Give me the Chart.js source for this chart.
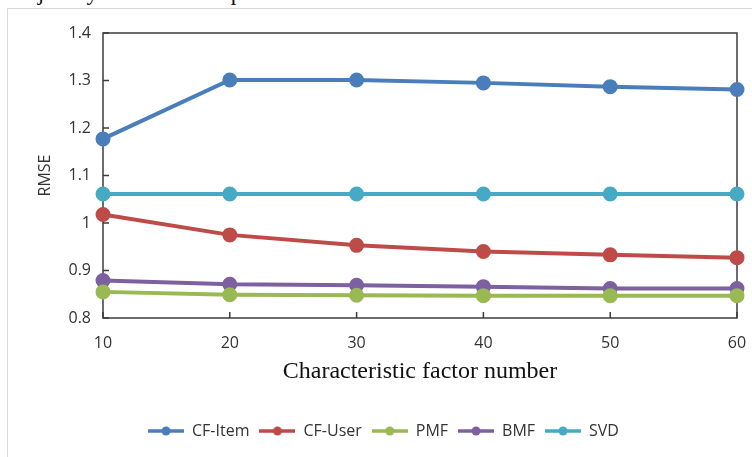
<!DOCTYPE html>
<html>
<head>
<meta charset="utf-8">
<script src="https://cdn.jsdelivr.net/npm/chart.js@4.4.1/dist/chart.umd.min.js"></script>
<style>
  html, body { margin: 0; padding: 0; background: #fff; }
  body { width: 752px; height: 457px; position: relative; overflow: hidden; }
  #cut {
    position: absolute; right: 389px; top: -20px;
    font-family: "Liberation Serif", "Times New Roman", serif;
    font-size: 23px; color: #111; white-space: nowrap;
  }
  #frame {
    position: absolute; left: 7px; top: 8px; width: 780px; height: 480px;
    border: 1px solid #d9d9d9;
  }
  #wrap { position: absolute; left: 0; top: 0; width: 752px; height: 457px; }
</style>
</head>
<body>
<div id="cut">jointly matrix decomposition based</div>
<div id="frame"></div>
<div id="wrap"><canvas id="chart-1"></canvas></div>
<script>
let factors = [10, 20, 30, 40, 50, 60];

let cfItem = [1.177, 1.301, 1.301, 1.295, 1.287, 1.281];
let cfUser = [1.018, 0.975, 0.953, 0.940, 0.933, 0.927];
let pmf    = [0.855, 0.849, 0.848, 0.847, 0.847, 0.847];
let bmf    = [0.879, 0.871, 0.869, 0.866, 0.862, 0.862];
let svd    = [1.061, 1.061, 1.061, 1.061, 1.061, 1.061];

let seriesNames  = ['CF-Item', 'CF-User', 'PMF', 'BMF', 'SVD'];
let seriesColors = ['#4a7ebb', '#be4b48', '#98b954', '#7d60a0', '#46aac5'];

let yMin = 0.8, yMax = 1.4, yStep = 0.1;

// small "line with dot" pictures for the legend
function legendIcon(color) {
    let c = document.createElement('canvas');
    c.width = 36; c.height = 12;
    let ctx = c.getContext('2d');
    ctx.strokeStyle = color;
    ctx.lineWidth = 3.5;
    ctx.beginPath();
    ctx.moveTo(0, 6); ctx.lineTo(36, 6);
    ctx.stroke();
    ctx.fillStyle = color;
    ctx.beginPath();
    ctx.arc(18, 6, 4.5, 0, Math.PI * 2);
    ctx.fill();
    return c;
}
let icons = seriesColors.map(legendIcon);

// plot box and inward tick marks, like the office chart
const boxPlugin = {
    id: 'box',
    beforeDatasetsDraw(chart) {
        let { ctx, chartArea: a, scales } = chart;
        ctx.save();
        ctx.strokeStyle = '#3c3c3c';
        ctx.lineWidth = 1.5;
        ctx.strokeRect(a.left, a.top, a.right - a.left, a.bottom - a.top);
        ctx.beginPath();
        scales.y.ticks.forEach(t => {
            let y = scales.y.getPixelForValue(t.value);
            ctx.moveTo(a.left, y); ctx.lineTo(a.left + 6, y);
        });
        scales.x.ticks.forEach((t, i) => {
            let x = scales.x.getPixelForTick(i);
            ctx.moveTo(x, a.bottom); ctx.lineTo(x, a.bottom - 6);
        });
        ctx.stroke();
        ctx.restore();
    }
};

let datasets = [cfItem, cfUser, pmf, bmf, svd].map((vals, i) => ({
    label: seriesNames[i],
    data: vals,
    borderColor: seriesColors[i],
    backgroundColor: seriesColors[i],
    pointBackgroundColor: seriesColors[i],
    pointBorderColor: seriesColors[i],
    borderWidth: 4,
    pointRadius: 5.5,
    pointHoverRadius: 5.5,
    tension: 0
}));

let chart_1 = document.getElementById('chart-1');

new Chart(chart_1, {
    type: 'line',
    data: {
        labels: factors,
        datasets: datasets
    },
    plugins: [boxPlugin],
    options: {
        responsive: true,
        maintainAspectRatio: false,
        animation: false,
        layout: { padding: { left: 30, right: 15, top: 33, bottom: 8 } },
        scales: {
            x: {
                type: 'category',
                offset: false,
                grid: { display: false, drawTicks: false },
                border: { display: false },
                afterFit(scale) { scale.paddingLeft = 0; scale.paddingRight = 0; },
                ticks: {
                    color: '#333',
                    padding: 16,
                    maxRotation: 0,
                    font: { family: 'Open Sans', size: 16 }
                },
                title: {
                    display: true,
                    text: 'Characteristic factor number',
                    color: '#111',
                    padding: { top: -12, bottom: 27 },
                    font: { family: 'Liberation Serif', size: 24 }
                }
            },
            y: {
                min: yMin,
                max: yMax,
                grid: { display: false, drawTicks: false },
                border: { display: false },
                afterFit(scale) { scale.width = 73; },
                ticks: {
                    stepSize: yStep,
                    color: '#333',
                    padding: 12,
                    font: { family: 'Open Sans', size: 16 },
                    callback: v => String(Number(v.toFixed(1)))
                },
                title: {
                    display: true,
                    text: 'RMSE',
                    color: '#333',
                    padding: { top: 6, bottom: 0 },
                    font: { family: 'Open Sans', size: 16 }
                }
            }
        },
        plugins: {
            tooltip: { enabled: false },
            legend: {
                position: 'bottom',
                labels: {
                    usePointStyle: true,
                    pointStyleWidth: 36,
                    padding: 10,
                    color: '#333',
                    font: { family: 'Open Sans', size: 16 },
                    generateLabels(chart) {
                        let items = Chart.defaults.plugins.legend.labels.generateLabels(chart);
                        items.forEach((it, i) => { it.pointStyle = icons[i]; });
                        return items;
                    }
                }
            }
        }
    }
});
</script>
</body>
</html>
